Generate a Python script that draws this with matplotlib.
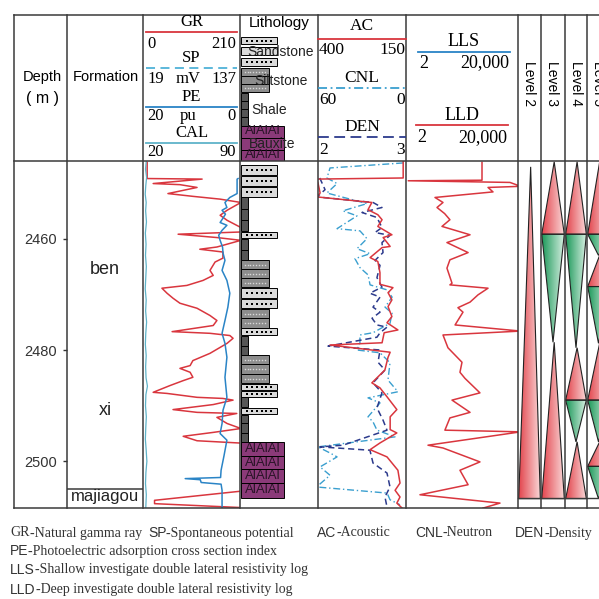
import matplotlib
matplotlib.use("Agg")
import matplotlib.pyplot as plt
import numpy as np
from matplotlib.patches import Rectangle, Polygon
from matplotlib.colors import LinearSegmentedColormap

W, H = 599, 599
Y_TOP, Y_BOT = 161, 508            # pixel rows of the log body
D_TOP, D_BOT = 2446.05, 2508.38    # depth at those rows (m)

SERIF = "Liberation Serif"
SANS = "Liberation Sans"
LINE = "#3a3a3a"

# ---------------- log curves (depth in m) ----------------
gr_depth = [2446.3, 2449.2, 2449.3, 2450.1, 2450.3, 2450.8, 2451.9, 2452.4, 2452.9, 2453.5,
            2454.9, 2455.8, 2456.7, 2458.0, 2458.8, 2459.2, 2459.8, 2460.3, 2461.5, 2461.9,
            2462.4, 2463.5, 2464.2, 2465.7, 2466.6, 2467.5, 2468.4, 2468.9, 2469.8, 2470.7,
            2471.6, 2472.5, 2473.8, 2474.7, 2475.6, 2476.7, 2477.0, 2477.4, 2477.9, 2478.8,
            2480.6, 2481.9, 2482.8, 2483.3, 2484.0, 2484.9, 2485.5, 2486.4, 2487.6, 2487.8,
            2488.5, 2488.7, 2489.0, 2489.8, 2490.7, 2491.2, 2491.4, 2492.1, 2493.2, 2494.1,
            2494.8, 2495.5, 2496.3, 2496.8, 2505.2, 2507.0, 2507.6, 2508.3]
gr_vals = [9, 9, 128, 22, 80, 117, 54, 108, 167, 212,
           182, 167, 182, 212, 212, 76, 160, 212, 160, 123,
           173, 173, 156, 145, 152, 130, 95, 41, 52, 65,
           80, 117, 145, 160, 152, 63, 145, 188, 195, 182,
           145, 108, 102, 80, 102, 108, 87, 58, 22, 52,
           117, 173, 195, 152, 65, 117, 203, 160, 182, 212,
           152, 87, 117, 230, 230, 25, 25, 212]

pe_depth = [2449.2, 2449.3, 2451.9, 2452.6, 2453.5, 2454.4, 2454.9, 2455.6, 2456.3, 2457.1,
            2457.6, 2458.5, 2459.4, 2460.3, 2461.5, 2462.6, 2463.9, 2465.7, 2467.5, 2469.8,
            2472.3, 2474.7, 2477.0, 2478.8, 2481.3, 2484.9, 2488.5, 2490.8, 2493.2, 2495.0,
            2496.2, 2499.0, 2501.6, 2502.9, 2503.1, 2503.3, 2503.8, 2504.1, 2505.2, 2508.3]
pe_vals = [0.4, 0.6, 0.6, 2.1, 3.1, 2.7, 3.7, 3.0, 3.5, 4.1,
           2.7, 3.7, 4.4, 4.1, 3.6, 3.5, 3.1, 3.7, 2.7, 2.1,
           2.5, 3.1, 3.7, 3.1, 2.7, 3.1, 2.7, 3.5, 3.7, 4.1,
           2.7, 3.3, 3.9, 4.0, 11.3, 8.2, 8.0, 3.9, 3.7, 3.7]

cal_depth = [2446.0, 2447.5, 2449.0, 2450.5, 2452.0, 2453.5, 2455.0, 2457.0, 2459.0, 2461.0,
             2463.0, 2465.0, 2467.0, 2469.0, 2471.0, 2473.0, 2475.0, 2477.0, 2479.0, 2481.0,
             2483.0, 2485.0, 2486.5, 2488.0, 2490.0, 2492.0, 2494.0, 2496.0, 2498.0, 2500.0,
             2502.0, 2504.0, 2506.0, 2508.4]
cal_vals = [22.4, 21.8, 22.6, 22.0, 21.6, 22.3, 21.9, 22.5, 21.7, 22.2,
            21.8, 22.4, 22.0, 21.6, 22.3, 21.9, 22.6, 22.0, 21.7, 22.3,
            21.9, 22.2, 23.2, 22.1, 21.8, 22.4, 22.0, 21.7, 22.3, 22.8,
            22.1, 21.8, 22.4, 22.0]

ac_depth = [2446.1, 2449.1, 2449.3, 2450.0, 2451.8, 2452.5, 2453.5, 2454.8, 2455.7, 2456.6,
            2457.8, 2459.3, 2459.8, 2461.4, 2461.6, 2463.4, 2464.1, 2466.1, 2468.2, 2468.8,
            2469.7, 2471.0, 2472.2, 2474.0, 2475.1, 2476.4, 2476.9, 2478.7, 2479.1, 2480.4,
            2481.3, 2483.6, 2485.9, 2486.8, 2488.4, 2490.7, 2492.0, 2494.3, 2494.9, 2496.7,
            2497.9, 2499.2, 2501.6, 2503.9, 2505.2, 2506.4, 2507.5, 2508.4]
ac_vals = [158, 158, 405, 400, 394, 403, 247, 258, 230, 218,
           230, 190, 215, 195, 218, 252, 230, 224, 224, 187,
           201, 190, 201, 190, 204, 173, 212, 218, 366, 195,
           201, 210, 247, 224, 204, 176, 195, 195, 176, 224,
           252, 204, 173, 167, 181, 167, 176, 161]

cnl_depth = [2446.4, 2447.3, 2449.1, 2450.1, 2451.8, 2453.7, 2455.0, 2455.9, 2458.2, 2458.6,
             2460.0, 2461.8, 2462.7, 2463.6, 2465.2, 2466.5, 2468.3, 2469.2, 2470.5, 2472.3,
             2473.4, 2475.2, 2476.9, 2477.3, 2478.7, 2480.0, 2480.5, 2482.3, 2485.4, 2487.5,
             2488.6, 2489.5, 2492.0, 2492.9, 2494.4, 2495.6, 2497.4, 2498.5, 2499.2, 2501.0,
             2502.5, 2504.6, 2505.7, 2506.9, 2507.8]
cnl_vals = [2.0, 51.8, 53.9, 47.0, 53.9, 26.6, 43.0, 33.4, 47.0, 31.4,
            26.6, 33.4, 24.5, 34.8, 31.4, 25.9, 24.5, 12.9, 9.5, 14.3,
            9.5, 10.9, 22.5, 31.4, 31.4, 33.4, 17.7, 10.9, 12.3, 5.5,
            25.9, 17.7, 25.9, 22.5, 19.8, 7.5, 60.0, 51.8, 47.0, 58.6,
            51.8, 61.0, 12.9, 10.9, 4.1]

den_depth = [2449.1, 2451.2, 2452.5, 2453.5, 2454.4, 2455.3, 2456.2, 2458.0, 2458.9, 2459.4,
             2460.7, 2462.5, 2463.9, 2464.8, 2467.0, 2468.7, 2469.8, 2470.5, 2472.3, 2473.2,
             2474.3, 2475.5, 2475.9, 2476.9, 2477.7, 2479.3, 2480.0, 2482.2, 2483.6, 2485.9,
             2487.7, 2490.4, 2492.6, 2494.4, 2497.1, 2497.4, 2498.0, 2500.3, 2502.1, 2504.6,
             2506.4, 2508.2]
den_vals = [2.02, 2.08, 1.99, 2.625, 2.727, 2.50, 2.67, 2.727, 2.648, 2.818,
            2.727, 2.739, 2.648, 2.705, 2.67, 2.727, 2.59, 2.705, 2.625, 2.705,
            2.614, 2.67, 2.784, 2.705, 2.67, 2.114, 2.705, 2.682, 2.761, 2.625,
            2.727, 2.67, 2.739, 2.784, 2.284, 2.023, 2.59, 2.625, 2.784, 2.818,
            2.761, 2.784]

lld_depth = [2446.3, 2449.5, 2449.6, 2449.9, 2450.6, 2450.8, 2451.6, 2452.6, 2453.5, 2454.4,
             2455.5, 2456.6, 2457.8, 2459.3, 2460.7, 2462.5, 2463.8, 2465.3, 2468.0, 2468.3,
             2468.9, 2470.1, 2471.4, 2472.4, 2473.2, 2475.5, 2476.6, 2477.3, 2479.6, 2482.2,
             2484.0, 2485.1, 2487.7, 2489.0, 2491.2, 2492.2, 2494.4, 2494.7, 2497.1, 2497.6,
             2500.1, 2501.6, 2504.2, 2506.0, 2507.5, 2508.4]
lld_vals = [1036, 1036, 2.4, 10350, 25000, 1700, 2560, 21.7, 41.9, 25.6,
            48, 74, 38.6, 387, 58, 330, 74, 58, 88, 74,
            1700, 744, 387, 143, 217, 113, 25000, 41.9, 63, 200,
            169, 256, 876, 88, 387, 74, 49, 25000, 12.2, 41.9,
            876, 169, 330, 6.3, 4550, 1120]

# ---------------- lithology column ----------------
litho_top = [2446.6, 2448.6, 2450.6, 2452.6, 2454.6, 2456.6, 2458.7, 2460.0, 2462.0, 2463.9,
             2465.5, 2467.1, 2468.7, 2470.7, 2472.6, 2474.3, 2476.0, 2477.4, 2479.2, 2480.9,
             2482.6, 2484.3, 2486.0, 2487.3, 2488.5, 2490.3, 2491.6, 2493.2, 2494.9, 2496.6,
             2499.1, 2501.4, 2503.9]
litho_bot = litho_top[1:] + [2506.5]
litho_kind = ["sand", "sand", "sand", "shale", "shale", "shale", "sand", "shale", "shale", "silt",
              "silt", "silt", "sand", "sand", "silt", "silt", "sand", "shale", "shale", "silt",
              "silt", "silt", "sand", "sand", "shale", "sand", "shale", "shale", "shale", "baux",
              "baux", "baux", "baux"]

formations = ["ben", "xi", "majiagou"]
formation_mid = [2465.6, 2490.8, 2506.4]
formation_base = 2505.0

depth_ticks = [2460, 2480, 2500]

# ---------------- cycle columns (top, bottom, r = rising / g = falling) ----------------
levels = ["Level 2", "Level 3", "Level 4", "Level 5"]
level_cycles = [
    [(2447.1, 2506.7, "r")],
    [(2446.2, 2459.2, "r"), (2459.2, 2478.6, "g"), (2478.6, 2506.7, "r")],
    [(2446.2, 2459.2, "r"), (2459.2, 2479.6, "g"), (2479.6, 2489.0, "r"),
     (2489.0, 2496.5, "g"), (2496.5, 2506.7, "r")],
    [(2446.2, 2459.2, "r"), (2459.2, 2463.0, "g"), (2463.0, 2468.6, "r"),
     (2468.6, 2478.8, "g"), (2478.8, 2489.0, "r"), (2489.0, 2496.5, "g"),
     (2496.5, 2500.9, "r"), (2500.9, 2506.7, "g")],
]

legend_abbr = ["GR", "SP", "AC", "CNL", "DEN", "PE", "LLS", "LLD"]
legend_text = ["-Natural gamma ray", "-Spontaneous potential", "-Acoustic", "-Neutron",
               "-Density", "-Photoelectric adsorption cross section index",
               "-Shallow investigate double lateral resistivity log",
               "-Deep investigate double lateral resistivity log"]

# colours
C_RED = "#d9363e"
C_PE = "#2a84c6"
C_CAL = "#5fb3c9"
C_CNL = "#3a9fcf"
C_DEN = "#2c3a8c"

FILL = {"sand": "#dadada", "silt": "#8d8d8d", "shale": "#565656", "baux": "#8b3a79"}
WIDTH = {"sand": 0.47, "silt": 0.36, "shale": 0.09, "baux": 0.56}

fig = plt.figure(figsize=(W / 100, H / 100), dpi=100)


def px_axes(x0, x1, y0=Y_TOP, y1=Y_BOT):
    ax = fig.add_axes([x0 / W, 1 - y1 / H, (x1 - x0) / W, (y1 - y0) / H])
    ax.patch.set_visible(False)
    return ax


def log_track(x0, x1):
    ax = px_axes(x0, x1)
    ax.set_ylim(D_BOT, D_TOP)
    ax.axis("off")
    return ax


def add_curve(base, xlim, depth, vals, log=False, **kw):
    ax = base.twiny()
    if log:
        ax.set_xscale("log")
    ax.set_xlim(*xlim)
    ax.set_ylim(D_BOT, D_TOP)
    ax.axis("off")
    ax.plot(vals, depth, **kw)
    return ax


def draw_block(ax, top, bot, kind, label=None):
    w = WIDTH[kind]
    gap = 0.12 * (bot - top) if kind == "sand" else 0.0
    ax.add_patch(Rectangle((0.01, top + gap / 2), w, bot - top - gap, fc=FILL[kind],
                           ec="black", lw=0.7))
    mid = 0.5 * (top + bot)
    if label is not None:
        return
    if kind == "sand":
        xs = np.linspace(0.09, w - 0.07, 6)
        ax.plot(xs, [mid] * len(xs), "s", ms=2.0, color="black", mew=0)
    elif kind == "silt":
        xs = np.linspace(0.06, w - 0.04, 8)
        ax.plot(xs, [mid] * len(xs), "s", ms=1.0, color="#d8d8d8", mew=0)
    elif kind == "baux":
        ax.text(0.01 + w / 2, mid, "AlAlAl", ha="center", va="center", fontsize=9.5,
                family=SANS, color="#2a1428")


# ---------------- GR / SP / PE / CAL track ----------------
gr_ax = log_track(143, 240)
add_curve(gr_ax, (0, 210), gr_depth, gr_vals, color=C_RED, lw=1.1)
add_curve(gr_ax, (20, 0), pe_depth, pe_vals, color=C_PE, lw=1.1)
add_curve(gr_ax, (20, 90), cal_depth, cal_vals, color=C_CAL, lw=0.9)

# ---------------- lithology ----------------
lith_ax = log_track(240, 318)
lith_ax.set_xlim(0, 1)
for t, b, k in zip(litho_top, litho_bot, litho_kind):
    draw_block(lith_ax, t, b, k)

# ---------------- AC / CNL / DEN ----------------
ac_ax = log_track(318, 406)
add_curve(ac_ax, (60, 0), cnl_depth, cnl_vals, color=C_CNL, lw=1.0, ls=(0, (5, 2, 1, 2)))
add_curve(ac_ax, (2, 3), den_depth, den_vals, color=C_DEN, lw=1.1, ls=(0, (4, 2.5)))
add_curve(ac_ax, (400, 150), ac_depth, ac_vals, color=C_RED, lw=1.1)

# ---------------- LLS / LLD ----------------
rt_ax = log_track(406, 518)
add_curve(rt_ax, (2, 20000), lld_depth, lld_vals, log=True, color=C_RED, lw=1.1)

# ---------------- formation column with depth scale ----------------
fm_ax = px_axes(67, 143)
fm_ax.set_ylim(D_BOT, D_TOP)
fm_ax.set_xlim(0, 1)
for s in fm_ax.spines.values():
    s.set_visible(False)
fm_ax.xaxis.set_visible(False)
fm_ax.set_yticks(depth_ticks)
fm_ax.set_yticklabels([str(d) for d in depth_ticks], family=SANS, fontsize=10.5, color="#333")
fm_ax.tick_params(axis="y", length=3, width=1, color="#333", pad=4)
fm_ax.axhline(formation_base, color=LINE, lw=1.1)
for name, d in zip(formations, formation_mid):
    fs = 12 if name == "majiagou" else 13
    fm_ax.text(0.5, d, name, ha="center", va="center", family=SANS, fontsize=fs, color="#222")

# ---------------- cycle columns ----------------
red_cm = LinearSegmentedColormap.from_list("rise", ["#e3474f", "#fadada"])
green_cm = LinearSegmentedColormap.from_list("fall", ["#1f9a5c", "#daf1e4"])
grad = np.linspace(0, 1, 64).reshape(1, -1)
level_x = [(518, 541), (541, 565), (565, 587), (587, 610)]
for (x0, x1), cycles in zip(level_x, level_cycles):
    ax = log_track(x0, x1)
    ax.set_xlim(0, 1)
    for top, bot, kind in cycles:
        if kind == "r":
            pts = [(0.55, top), (0.03, bot), (0.97, bot)]
            cm = red_cm
        else:
            pts = [(0.03, top), (0.97, top), (0.5, bot)]
            cm = green_cm
        poly = Polygon(pts, closed=True, fc="none", ec="#222", lw=0.8, zorder=3)
        ax.add_patch(poly)
        im = ax.imshow(grad, cmap=cm, extent=[0.03, 0.97, bot, top], aspect="auto", zorder=2)
        im.set_clip_path(poly)
    ax.set_xlim(0, 1)
    ax.set_ylim(D_BOT, D_TOP)

# ---------------- table frame and headers ----------------
fr = fig.add_axes([0, 0, 1, 1])
fr.patch.set_visible(False)
fr.set_xlim(0, W)
fr.set_ylim(H, 0)
fr.axis("off")
fr.set_zorder(10)

for x in [14, 67, 143, 240, 318, 406, 518, 541, 565, 587]:
    fr.plot([x, x], [15, Y_BOT], color=LINE, lw=1.1)
for y in [15, Y_TOP, Y_BOT]:
    fr.plot([14, W], [y, y], color=LINE, lw=1.1)
fr.plot([518, W], [498, 498], color=LINE, lw=1.0)

fr.text(42.5, 77, "Depth", ha="center", va="center", family=SANS, fontsize=10.5)
fr.text(42.5, 99, "( m )", ha="center", va="center", family=SANS, fontsize=11.5)
fr.text(105.5, 77, "Formation", ha="center", va="center", family=SANS, fontsize=10.5)


def scale_head(name, y_name, y_line, y_lab, left, right, x0, x1, color, ls="-",
               mid=None, fs=12):
    xc = 0.5 * (x0 + x1)
    fr.text(xc, y_name, name, ha="center", va="center", family=SERIF, fontsize=fs)
    fr.plot([x0, x1], [y_line, y_line], color=color, lw=1.3, ls=ls)
    fr.text(x0 + 1, y_lab, left, ha="left", va="center", family=SERIF, fontsize=fs)
    fr.text(x1 - 1, y_lab, right, ha="right", va="center", family=SERIF, fontsize=fs)
    if mid:
        fr.text(xc - 3, y_lab, mid, ha="center", va="center", family=SERIF, fontsize=fs)


scale_head("GR", 22, 32, 44, "0", "210", 146, 237, C_RED)
scale_head("SP", 58, 68, 79, "19", "137", 146, 237, "#4fb2d8", ls=(0, (5, 3)), mid="mV")
scale_head("PE", 97, 107, 116, "20", "0", 146, 237, C_PE, mid="pu")
scale_head("CAL", 133, 143, 152, "20", "90", 146, 237, C_CAL)

scale_head("AC", 26, 39, 50, "400", "150", 318, 406, C_RED, fs=12.5)
scale_head("CNL", 78, 88, 100, "60", "0", 318, 406, C_CNL, ls=(0, (5, 2, 1, 2)), fs=12.5)
scale_head("DEN", 127, 137, 150, "2", "3", 318, 406, C_DEN, ls=(0, (6, 3)), fs=12.5)

scale_head("LLS", 41, 52, 63, "2", "20,000", 418, 510, C_PE, fs=13)
scale_head("LLD", 116, 125, 138, "2", "20,000", 416, 508, C_RED, fs=13)

fr.text(279, 23, "Lithology", ha="center", va="center", family=SANS, fontsize=11)

# lithology key in the header
key_ax = px_axes(240, 318, 15, Y_TOP)
key_ax.set_xlim(0, 1)
key_ax.set_ylim(Y_TOP, 15)
key_ax.axis("off")
key_blocks = [(36, 45, "sand", None), (46, 56, "sand", "Sandstone"), (57, 67, "sand", None),
              (68, 76, "silt", None), (76, 84, "silt", "Siltstone"), (84, 92, "silt", None),
              (93, 101, "shale", None), (101, 109, "shale", None), (109, 117, "shale", None),
              (117, 125.5, "shale", None), (125.5, 137.5, "baux", None),
              (137.5, 149.5, "baux", "Bauxite"), (149.5, 161, "baux", None)]
for t, b, k, lab in key_blocks:
    draw_block(key_ax, t, b, k, lab)
key_ax.text(0.1, 51.5, "Sandstone", va="center", family=SANS, fontsize=10, color="#222")
key_ax.text(0.19, 81, "Siltstone", va="center", family=SANS, fontsize=10, color="#222")
key_ax.text(0.15, 110, "Shale", va="center", family=SANS, fontsize=10, color="#222")
key_ax.text(0.115, 143.5, "Bauxite", va="center", family=SANS, fontsize=10, color="#222")

for name, (x0, x1) in zip(levels, level_x):
    fr.text(0.5 * (x0 + x1) - 0.5, 61, name, ha="center", va="top", rotation=270,
            family=SANS, fontsize=10)

# ---------------- abbreviations below the chart ----------------
legend_pos = [(10, 533), (148, 533), (317, 533), (415, 533), (515, 533),
              (10, 551), (10, 570), (10, 590)]
for abbr, desc, (x, y) in zip(legend_abbr, legend_text, legend_pos):
    fam = SERIF if abbr == "GR" else SANS
    t = fr.text(x, y, abbr, ha="left", va="center", family=fam, fontsize=10, color="#333")
    fr.annotate(desc, xy=(1, 0.5), xycoords=t, ha="left", va="center", family=SERIF,
                fontsize=10, color="#333")

fig.savefig("out.png", dpi=100)
